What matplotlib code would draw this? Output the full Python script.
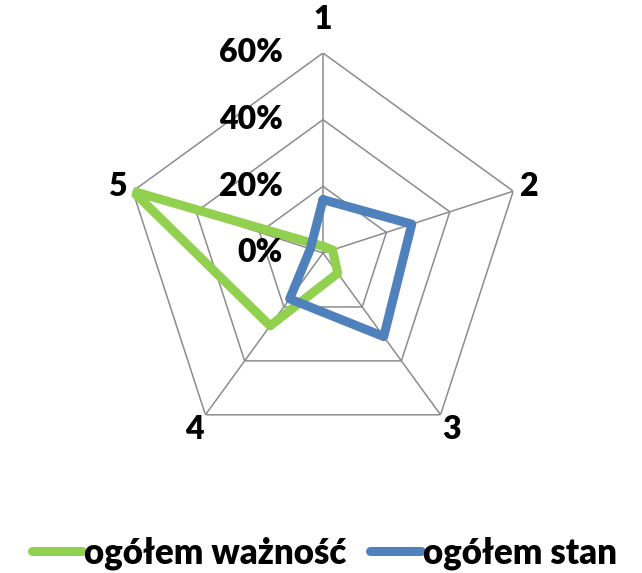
import numpy as np
import matplotlib.pyplot as plt
from matplotlib.lines import Line2D
from matplotlib.transforms import offset_copy

plt.rcParams['font.family'] = ['Lato', 'DejaVu Sans']
plt.rcParams['font.weight'] = 'heavy'

# data
categories = ["1", "2", "3", "4", "5"]
waznosc = [0.02, 0.03, 0.075, 0.27, 0.60]
stan = [0.16, 0.28, 0.31, 0.17, 0.04]
rings = [0.2, 0.4, 0.6]
ring_labels = ["0%", "20%", "40%", "60%"]

GREEN = "#92D050"
BLUE = "#4F81BD"
GRID = "#8C8C8C"

W, H = 642, 573
cx, cy, R = 323, 253, 200

fig = plt.figure(figsize=(W / 100, H / 100), dpi=100)
ax = fig.add_axes([(cx - R) / W, (H - cy - R) / H, 2 * R / W, 2 * R / H],
                  projection="polar")
ax.set_theta_zero_location("N")
ax.set_theta_direction(-1)
ax.set_ylim(0, 0.6)
ax.set_axis_off()

theta = np.deg2rad(np.arange(len(categories)) * 360 / len(categories))
closed = np.append(theta, theta[0])

# pentagon grid
for r in rings:
    ax.plot(closed, [r] * len(closed), color=GRID, lw=1.1, zorder=1)
for t in theta:
    ax.plot([t, t], [0, rings[-1]], color=GRID, lw=1.1, zorder=1)

ax.plot(closed, waznosc + waznosc[:1], color=GREEN, lw=6.5,
        solid_joinstyle="round", solid_capstyle="round", zorder=3)
ax.plot(closed, stan + stan[:1], color=BLUE, lw=6.5,
        solid_joinstyle="round", solid_capstyle="round", zorder=4)

# radial tick labels on the first spoke
left = offset_copy(ax.transData, fig=fig, x=-29, y=0, units="points")
for v, lab in zip([0.0] + rings, ring_labels):
    ax.text(0, v, lab, transform=left, ha="right", va="center",
            fontsize=23, fontweight="heavy")

# category labels
pads = [0.70, 0.65, 0.655, 0.655, 0.65]
for t, lab, p in zip(theta, categories, pads):
    ax.text(t, p, lab, ha="center", va="center", fontsize=23,
            fontweight="heavy", clip_on=False)

handles = [
    Line2D([], [], color=GREEN, lw=6.5, solid_capstyle="round"),
    Line2D([], [], color=BLUE, lw=6.5, solid_capstyle="round"),
]
fig.legend(handles, ["ogółem ważność", "ogółem stan"], loc="center",
           bbox_to_anchor=(0.505, 1 - 553 / H), ncol=2, frameon=False,
           handlelength=1.45, handletextpad=0.05, columnspacing=0.7,
           prop={"weight": "heavy", "size": 25})

fig.savefig("out.png", dpi=100)
